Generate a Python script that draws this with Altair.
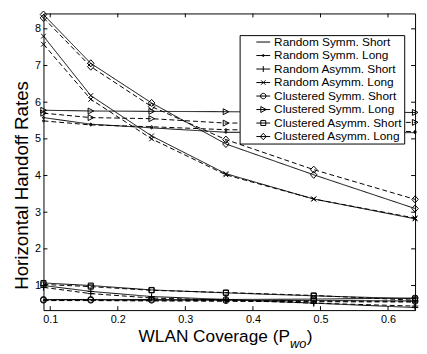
import altair as alt
import pandas as pd

# ---------------- data ----------------
x_vals = [0.09, 0.16, 0.25, 0.36, 0.49, 0.64]
series_names = [
    "Random Symm. Short", "Random Symm. Long", "Random Asymm. Short", "Random Asymm. Long",
    "Clustered Symm. Short", "Clustered Symm. Long", "Clustered Asymm. Short", "Clustered Asymm. Long",
]
solid_vals = {
    "Random Symm. Short":     [0.61, 0.61, 0.60, 0.60, 0.59, 0.58],
    "Random Symm. Long":      [5.58, 5.40, 5.30, 5.18, 5.17, 5.17],
    "Random Asymm. Short":    [1.00, 0.84, 0.70, 0.62, 0.52, 0.40],
    "Random Asymm. Long":     [7.80, 6.18, 5.08, 4.05, 3.36, 2.82],
    "Clustered Symm. Short":  [0.62, 0.62, 0.62, 0.62, 0.63, 0.66],
    "Clustered Symm. Long":   [5.78, 5.76, 5.75, 5.74, 5.73, 5.72],
    "Clustered Asymm. Short": [1.07, 1.00, 0.88, 0.80, 0.72, 0.64],
    "Clustered Asymm. Long":  [8.39, 7.06, 5.98, 4.86, 4.02, 3.10],
}
dashed_vals = {
    "Random Symm. Short":     [0.59, 0.59, 0.58, 0.57, 0.56, 0.55],
    "Random Symm. Long":      [5.49, 5.38, 5.33, 5.25, 5.22, 5.20],
    "Random Asymm. Short":    [0.95, 0.78, 0.66, 0.60, 0.52, 0.44],
    "Random Asymm. Long":     [7.58, 6.08, 5.00, 4.02, 3.36, 2.84],
    "Clustered Symm. Short":  [0.60, 0.60, 0.60, 0.59, 0.58, 0.57],
    "Clustered Symm. Long":   [5.70, 5.58, 5.55, 5.43, 5.44, 5.45],
    "Clustered Asymm. Short": [1.03, 0.97, 0.87, 0.81, 0.73, 0.60],
    "Clustered Asymm. Long":  [8.30, 6.97, 5.88, 4.98, 4.16, 3.35],
}
x_ticks = [0.1, 0.2, 0.3, 0.4, 0.5, 0.6]
y_ticks = [1, 2, 3, 4, 5, 6, 7, 8]

# marker glyphs (unit coordinates)
marker_paths = [
    "M0,0",                                   # none
    "M0.35,0A0.35,0.35,0,1,1,-0.35,0A0.35,0.35,0,1,1,0.35,0Z",  # .
    "M-1.1,0H1.1M0,-1.1V1.1",                 # +
    "M-0.8,-0.8L0.8,0.8M-0.8,0.8L0.8,-0.8",   # x
    "circle",                                 # o
    "M-0.9,-1L1,0L-0.9,1Z",                   # >
    "M-0.85,-0.85H0.85V0.85H-0.85Z",          # square
    "M0,-1.2L1.1,0L0,1.2L-1.1,0Z",            # diamond
]
legend_paths = [
    "M-1.4,0H1.4",
    "M-1.4,0H1.4M0.2,0A0.2,0.2,0,1,1,-0.2,0A0.2,0.2,0,1,1,0.2,0Z",
    "M-1.4,0H1.4M0,-0.6V0.6",
    "M-1.4,0H1.4M-0.45,-0.45L0.45,0.45M-0.45,0.45L0.45,-0.45",
    "M-1.4,0H1.4M0.55,0A0.55,0.55,0,1,1,-0.55,0A0.55,0.55,0,1,1,0.55,0Z",
    "M-1.4,0H1.4M-0.5,-0.6L0.6,0L-0.5,0.6Z",
    "M-1.4,0H1.4M-0.5,-0.5H0.5V0.5H-0.5Z",
    "M-1.4,0H1.4M0,-0.65L0.6,0L0,0.65L-0.6,0Z",
]

rows = []
for style, table in (("solid", solid_vals), ("dashed", dashed_vals)):
    for name in series_names:
        for xv, yv in zip(x_vals, table[name]):
            rows.append({"series": name, "style": style, "x": xv, "y": yv})
df = pd.DataFrame(rows)
df_xt = pd.DataFrame({"x": x_ticks})
df_yt = pd.DataFrame({"y": y_ticks})

W, H = 377, 301
FONT = "Liberation Sans"

xscale = alt.Scale(domain=[0.09, 0.64], nice=False, zero=False)
yscale = alt.Scale(domain=[0.33, 8.42], nice=False, zero=False)
xaxis = alt.Axis(values=x_ticks, format=".1f", ticks=False, domain=False, grid=False,
                 labelFontSize=11, labelFont=FONT, labelColor="black", labelPadding=4, title=None)
yaxis = alt.Axis(values=y_ticks, format="d", ticks=False, domain=False, grid=False,
                 labelFontSize=11, labelFont=FONT, labelColor="black", labelPadding=3,
                 title="Horizontal Handoff Rates", titleFont=FONT, titleFontSize=19,
                 titleFontWeight="normal", titleColor="black", titlePadding=3, titleY=174)
X = alt.X("x:Q", scale=xscale, axis=xaxis)
Y = alt.Y("y:Q", scale=yscale, axis=yaxis)

lines = alt.Chart(df).mark_line(color="black", strokeWidth=1).encode(
    x=X, y=Y,
    detail="series:N",
    strokeDash=alt.StrokeDash("style:N", scale=alt.Scale(domain=["solid", "dashed"], range=[[1, 0], [5, 3]]), legend=None),
)

points = alt.Chart(df).mark_point(filled=False, color="black", size=36, strokeWidth=1, opacity=1).encode(
    x=X, y=Y,
    shape=alt.Shape("series:N", scale=alt.Scale(domain=series_names, range=marker_paths), legend=None),
)

legend_layer = alt.Chart(df).mark_point(filled=False, color="black", size=100, strokeWidth=1, opacity=1).encode(
    x=X, y=Y,
    shape=alt.Shape("series:N", scale=alt.Scale(domain=series_names, range=legend_paths),
                    legend=alt.Legend(orient="none", legendX=199, legendY=22, title=None,
                                      labelFontSize=12, labelFont=FONT, labelColor="black",
                                      symbolSize=100, symbolStrokeWidth=1, symbolStrokeColor="black",
                                      strokeColor="black", fillColor="white", padding=1, rowPadding=1.7,
                                      symbolOffset=17, labelOffset=5, cornerRadius=0, labelLimit=300)),
).transform_filter("false")

tb = alt.Chart(df_xt).mark_rule(color="black", strokeWidth=1).encode(x=X, y=alt.value(H), y2=alt.value(H - 4))
tt = alt.Chart(df_xt).mark_rule(color="black", strokeWidth=1).encode(x=X, y=alt.value(0), y2=alt.value(4))
tl = alt.Chart(df_yt).mark_rule(color="black", strokeWidth=1).encode(y=Y, x=alt.value(0), x2=alt.value(4))
tr = alt.Chart(df_yt).mark_rule(color="black", strokeWidth=1).encode(y=Y, x=alt.value(W), x2=alt.value(W - 4))

one = alt.Data(values=[{}])
t1 = alt.Chart(one).mark_text(text="WLAN Coverage (P", font=FONT, fontSize=17.5, align="right",
                              baseline="alphabetic", color="black").encode(x=alt.value(250), y=alt.value(333))
t2 = alt.Chart(one).mark_text(text="wo", font=FONT, fontSize=13, fontStyle="italic", align="left",
                              baseline="alphabetic", color="black").encode(x=alt.value(250), y=alt.value(339))
t3 = alt.Chart(one).mark_text(text=")", font=FONT, fontSize=17.5, align="left",
                              baseline="alphabetic", color="black").encode(x=alt.value(267), y=alt.value(333))

chart = alt.layer(lines, points, legend_layer, tb, tt, tl, tr, t1, t2, t3).resolve_scale(
    shape="independent"
).properties(
    width=W, height=H,
    autosize=alt.AutoSizeParams(type="none"),
    padding={"left": 36, "top": 3, "right": 4, "bottom": 42},
).configure_view(stroke="black", strokeWidth=1)

chart.save("out.html", embed_options={"renderer": "svg", "actions": False})
